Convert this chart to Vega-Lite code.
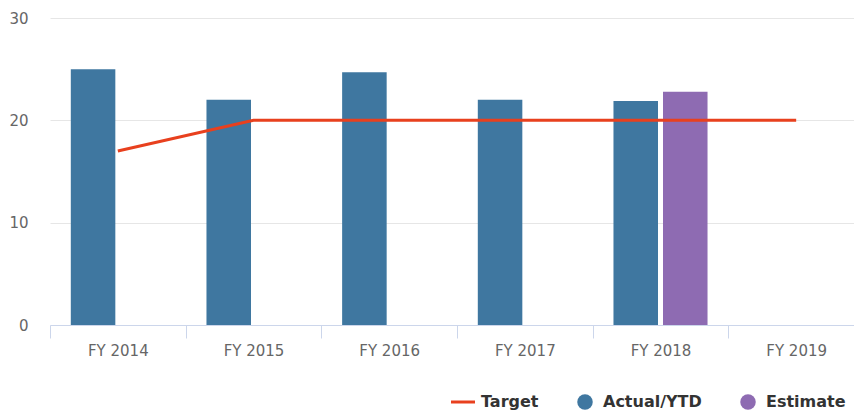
{
  "$schema": "https://vega.github.io/schema/vega-lite/v6.json",
  "autosize": {"type": "none"},
  "width": 814,
  "height": 307,
  "padding": {"left": 50, "top": 18, "right": 0, "bottom": 86},
  "background": "#ffffff",
  "config": {
    "view": {"stroke": null},
    "font": "DejaVu Sans"
  },
  "data": {
    "values": [
      {"year": "FY 2014", "series": "Actual/YTD", "value": 25.0},
      {"year": "FY 2015", "series": "Actual/YTD", "value": 22.0},
      {"year": "FY 2016", "series": "Actual/YTD", "value": 24.7},
      {"year": "FY 2017", "series": "Actual/YTD", "value": 22.0},
      {"year": "FY 2018", "series": "Actual/YTD", "value": 21.9},
      {"year": "FY 2018", "series": "Estimate", "value": 22.8},
      {"year": "FY 2014", "series": "Target", "value": 17},
      {"year": "FY 2015", "series": "Target", "value": 20},
      {"year": "FY 2016", "series": "Target", "value": 20},
      {"year": "FY 2017", "series": "Target", "value": 20},
      {"year": "FY 2018", "series": "Target", "value": 20},
      {"year": "FY 2019", "series": "Target", "value": 20}
    ]
  },
  "encoding": {
    "x": {
      "field": "year",
      "type": "nominal",
      "sort": ["FY 2014", "FY 2015", "FY 2016", "FY 2017", "FY 2018", "FY 2019"],
      "scale": {"domain": ["FY 2014", "FY 2015", "FY 2016", "FY 2017", "FY 2018", "FY 2019"], "paddingInner": 0, "paddingOuter": 0},
      "axis": {
        "title": null,
        "labelAngle": 0,
        "tickBand": "extent",
        "domainColor": "#ccd6eb",
        "tickColor": "#ccd6eb",
        "tickSize": 13,
        "labelFontSize": 15,
        "labelColor": "#666666",
        "labelPadding": 5,
        "grid": false
      }
    },
    "y": {
      "field": "value",
      "type": "quantitative",
      "scale": {"domain": [0, 30], "nice": false},
      "axis": {
        "title": null,
        "values": [0, 10, 20, 30],
        "domain": false,
        "ticks": false,
        "gridColor": "#e6e6e6",
        "labelFontSize": 15,
        "labelColor": "#666666",
        "labelPadding": 22
      }
    },
    "color": {
      "field": "series",
      "type": "nominal",
      "scale": {
        "domain": ["Target", "Actual/YTD", "Estimate"],
        "range": ["#e8401e", "#3f77a0", "#8e6bb2"]
      },
      "legend": {
        "title": null,
        "orient": "none",
        "direction": "horizontal",
        "legendX": 405,
        "legendY": 376,
        "padding": 0,
        "columnPadding": 38,
        "labelFontSize": 16,
        "labelFontWeight": "bold",
        "labelColor": "#333333",
        "labelOffset": 10,
        "symbolType": "circle",
        "symbolSize": 227,
        "encode": {
          "symbols": {
            "update": {
              "shape": {"signal": "datum.value === 'Target' ? 'stroke' : 'circle'"},
              "size": {"signal": "datum.value === 'Target' ? 576 : 240"},
              "strokeWidth": {"signal": "datum.value === 'Target' ? 3 : 0"},
              "opacity": {"value": 1},
              "fillOpacity": {"value": 1}
            }
          }
        }
      }
    }
  },
  "layer": [
    {
      "transform": [{"filter": "datum.series !== 'Target'"}],
      "mark": {"type": "bar", "opacity": 1},
      "encoding": {
        "xOffset": {
          "field": "series",
          "type": "nominal",
          "scale": {"domain": ["Actual/YTD", "Estimate"], "paddingInner": 0.101, "paddingOuter": 0.42}
        }
      }
    },
    {
      "transform": [{"filter": "datum.series === 'Target'"}],
      "mark": {"type": "line", "strokeWidth": 3},
      "encoding": {}
    }
  ]
}
